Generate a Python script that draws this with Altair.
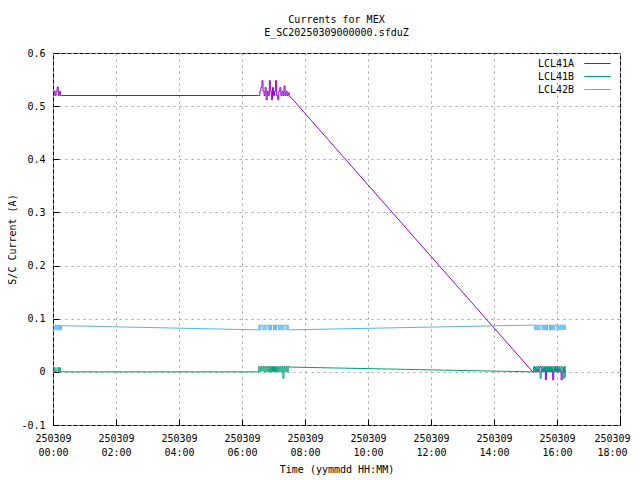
import altair as alt
import pandas as pd

title_lines = ["Currents for MEX", "E_SC20250309000000.sfduZ"]
series_names = ["LCL41A", "LCL41B", "LCL42B"]
series_colors = ["#9400d3", "#009e73", "#56b4e9"]
date_label = "250309"
x_ticks = [0, 2, 4, 6, 8, 10, 12, 14, 16, 18]
y_ticks = [-0.1, 0, 0.1, 0.2, 0.3, 0.4, 0.5, 0.6]

# sampling: clusters of telemetry, start hour and step (hours)
cluster_starts = [0.0, 6.5, 15.23]
step_h = 2 / 60

# LCL41A
a1 = [0.520, 0.528, 0.520, 0.528, 0.536, 0.520, 0.528, 0.520, 0.520]
a2 = [0.52, 0.52, 0.528, 0.535, 0.548, 0.528, 0.52, 0.535, 0.512, 0.528, 0.52,
      0.548, 0.528, 0.512, 0.535, 0.52, 0.528, 0.548, 0.52, 0.512, 0.528, 0.535,
      0.52, 0.528, 0.52, 0.538, 0.52, 0.528, 0.52, 0.525, 0.52]
a3 = [0.0, 0.008, 0.008, 0.0, 0.005, 0.0, 0.008, 0.01, 0.0, 0.005, 0.0, 0.008,
      -0.015, 0.0, 0.005, 0.0, 0.008, 0.0, 0.005, -0.015, 0.0, 0.008, 0.0, 0.01,
      0.0, 0.005, 0.0, -0.015, 0.0, 0.008, 0.0, 0.002]
# LCL41B
b1 = [0.000, 0.008, 0.000, 0.003, 0.008, 0.000, 0.008, 0.000, 0.000]
b2 = [0.0, 0.01, 0.0, 0.01, 0.002, 0.01, 0.0, 0.01, 0.0, 0.01, 0.0, 0.01, 0.0,
      0.01, 0.0, 0.01, 0.0, 0.01, 0.0, 0.01, 0.0, 0.01, 0.0, 0.01, -0.012, 0.01,
      0.0, 0.01, 0.0, 0.01, 0.009]
b3 = [0.0, 0.01, 0.0, 0.01, 0.0, 0.01, 0.0, -0.012, 0.0, 0.01, 0.0, 0.01, 0.0,
      0.01, 0.0, 0.01, 0.0, 0.01, 0.0, 0.01, 0.0, 0.01, 0.0, 0.01, 0.0, 0.01,
      0.0, 0.01, 0.0, -0.012, 0.01, -0.01]
# LCL42B
c1 = [0.088, 0.079, 0.088, 0.079, 0.088, 0.079, 0.088, 0.079, 0.087]
c2 = [0.079, 0.088, 0.079, 0.088, 0.088, 0.079, 0.088, 0.079, 0.088, 0.088,
      0.079, 0.088, 0.079, 0.088, 0.088, 0.079, 0.088, 0.079, 0.088, 0.088,
      0.079, 0.088, 0.079, 0.088, 0.079, 0.088, 0.088, 0.079, 0.088, 0.079, 0.079]
c3 = [0.088, 0.088, 0.079, 0.088, 0.079, 0.088, 0.079, 0.088, 0.088, 0.079,
      0.088, 0.079, 0.088, 0.079, 0.088, 0.088, 0.079, 0.088, 0.079, 0.088,
      0.079, 0.088, 0.088, 0.079, 0.088, 0.079, 0.088, 0.079, 0.088, 0.079,
      0.088, 0.079]

series_clusters = {
    "LCL41A": [a1, a2, a3],
    "LCL41B": [b1, b2, b3],
    "LCL42B": [c1, c2, c3],
}

rows = []
bridge_rows = []
for name in series_names:
    clusters = series_clusters[name]
    pts = []
    for k, (start, vals) in enumerate(zip(cluster_starts, clusters)):
        cl = []
        for i, v in enumerate(vals):
            r = {"t": start + i * step_h, "value": v, "series": name, "grp": f"{name}-{k}"}
            rows.append(r)
            cl.append(r)
        pts.append(cl)
    # straight connecting segments between the end of one burst and the next
    for k in range(len(pts) - 1):
        a, b = pts[k][-1], pts[k + 1][0]
        for r in (a, b):
            bridge_rows.append({"t": r["t"], "value": r["value"], "series": name,
                                "grp": f"{name}-b{k}"})

df = pd.DataFrame(rows)
bdf = pd.DataFrame(bridge_rows)

font = "DejaVu Sans Mono"

x_label_expr = ("['" + date_label + "', (datum.value < 10 ? '0' : '') + datum.value + ':00']")

x_enc = alt.X("t:Q", scale=alt.Scale(domain=[0, 18], nice=False),
              axis=alt.Axis(values=x_ticks, labelExpr=x_label_expr,
                            title="Time (yymmdd HH:MM)", ticks=True,
                            tickSize={"expr": "-6"}, tickColor="black",
                            labelFlush=False, labelPadding=14, labelLineHeight=14,
                            labelOffset={"condition": {"test": "datum.value == 18", "value": -8},
                                         "value": 0},
                            titlePadding=7))
y_enc = alt.Y("value:Q", scale=alt.Scale(domain=[-0.1, 0.6], nice=False),
              axis=alt.Axis(values=y_ticks,
                            labelExpr="datum.value == 0 ? '0' : '' + round(datum.value*10)/10",
                            title="S/C Current (A)", ticks=True,
                            tickSize={"expr": "-6"}, tickColor="black",
                            labelPadding=14, labelFlush=False, titlePadding=3))
color_enc = alt.Color("series:N",
                      scale=alt.Scale(domain=series_names, range=series_colors),
                      legend=alt.Legend(title=None, orient="none", legendX=538, legendY=4,
                                        symbolType="M-2.2,0H2.2", symbolSize=144,
                                        symbolStrokeWidth=1, labelAlign="right",
                                        labelOffset={"expr": "-30"}, rowPadding=1,
                                        labelFont=font, labelFontSize=10,
                                        labelColor="black"))

bursts = alt.Chart(df).mark_line(strokeWidth=1, interpolate="step-after").encode(
    x=x_enc, y=y_enc, color=color_enc, detail="grp:N", order=alt.Order("t:Q"),
)
bridges = alt.Chart(bdf).mark_line(strokeWidth=1).encode(
    x=x_enc, y=y_enc, color=color_enc, detail="grp:N", order=alt.Order("t:Q"),
)

chart = alt.layer(bridges, bursts).properties(
    width=567, height=372,
    autosize=alt.AutoSizeParams(type="none"),
    padding={"left": 45, "top": 45, "right": 12, "bottom": 55},
    background="white",
    title=alt.Title(title_lines, font=font, fontSize=10, fontWeight="normal",
                    color="black", offset=10, lineHeight=13),
).configure_view(
    stroke="black", strokeWidth=1
).configure_axis(
    grid=True, gridColor="#a0a0a0", gridDash=[2, 4], gridWidth=1,
    domain=False, labelFont=font, labelFontSize=10, labelColor="black",
    titleFont=font, titleFontSize=10, titleFontWeight="normal", titleColor="black",
)

chart.save("out.html", embed_options={"renderer": "svg", "actions": False})
